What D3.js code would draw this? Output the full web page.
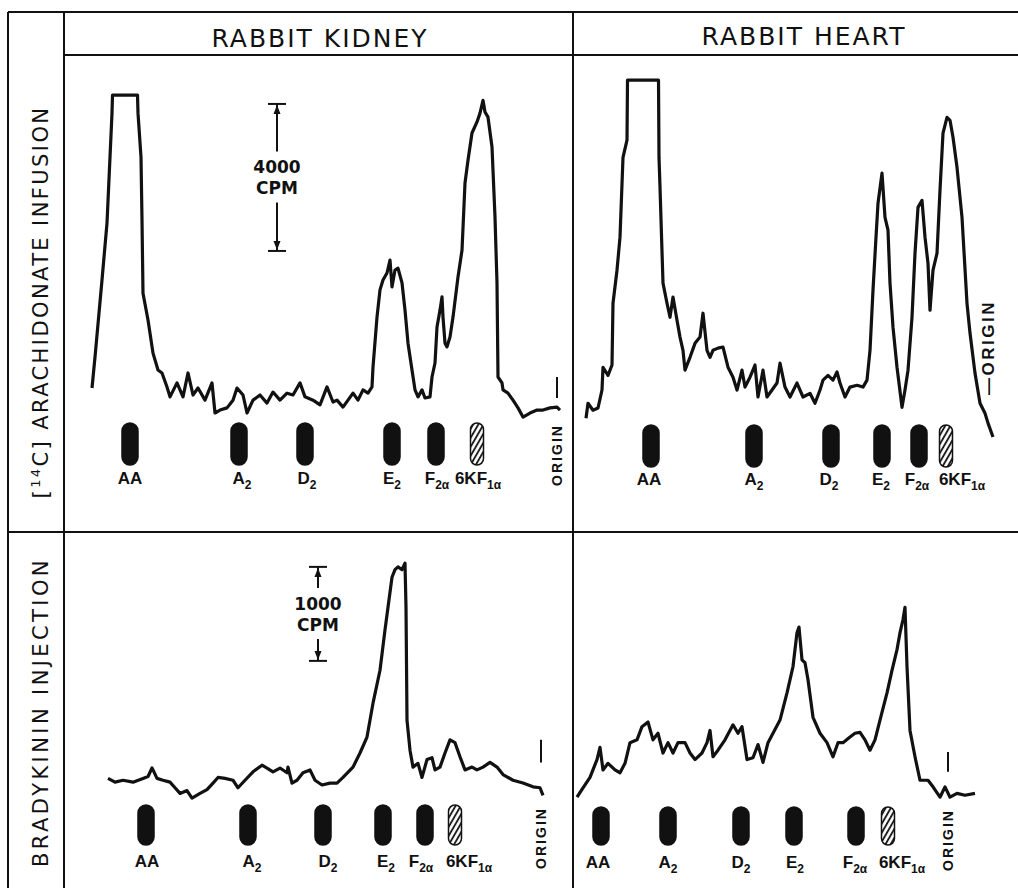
<!DOCTYPE html>
<html>
<head>
<meta charset="utf-8">
<script src="https://cdn.jsdelivr.net/npm/d3@7"></script>
<style>
  body { margin: 0; background: #fff; }
  svg { display: block; font-family: "DejaVu Sans", sans-serif; }
</style>
</head>
<body>
<svg id="fig" width="1018" height="888"></svg>
<script>
// Radio-TLC scans, x = scan position (arbitrary units along plate), y = CPM
const kidneyInfusion = [[27,870],[30,1710],[37,3810],[42,5360],[47,8350],[47.5,8840],[72.5,8840],[73,8350],[76,7150],[77,5440],[78,3450],[83,2720],[88,1820],[93,1360],[97,1280],[102,900],[105,630],[112,1010],[118,630],[123,1280],[128,680],[133,870],[140,540],[147,1010],[150,190],[155,270],[162,330],[168,540],[172,870],[178,680],[182,190],[188,540],[195,680],[202,460],[208,760],[215,540],[222,730],[228,680],[235,1010],[240,630],[248,540],[255,410],[262,900],[268,490],[272,540],[278,350],[288,730],[293,540],[298,820],[303,730],[307,900],[308,1440],[312,2800],[315,3540],[318,3810],[322,4000],[325,4350],[327,3620],[330,4080],[333,4130],[337,3730],[340,2990],[343,2090],[347,1360],[350,820],[353,630],[357,820],[360,600],[365,630],[367,1170],[370,1550],[372,2530],[375,2990],[377,3350],[378,2800],[380,2090],[382,1990],[385,2260],[388,2800],[393,3890],[397,4620],[400,6450],[403,7070],[407,7810],[412,8110],[415,8350],[418,8700],[420,8380],[423,8240],[427,7430],[430,5520],[432,3730],[433,1170],[437,1010],[438,820],[443,730],[448,540],[453,330],[458,80],[465,190],[472,270],[478,270],[485,330],[492,350],[495,270]];

const heartInfusion = [[13,590],[15,1000],[20,810],[25,870],[29,1360],[30,1980],[35,1760],[39,2040],[40,3720],[44,4620],[47,5520],[50,7690],[54,8160],[54.5,9790],[85.5,9790],[86,7690],[87,6880],[90,4270],[94,3720],[97,3340],[100,3890],[104,3260],[107,2800],[110,2440],[112,1900],[117,2250],[122,2630],[127,2800],[130,3450],[134,2440],[137,2250],[140,2440],[145,2500],[150,2530],[155,1980],[160,1710],[164,1360],[169,1900],[172,1440],[177,1710],[182,2040],[185,1170],[190,1900],[194,1170],[199,1360],[204,1550],[207,2090],[212,1440],[217,1170],[224,1550],[230,1170],[237,1270],[242,1000],[247,1360],[250,1630],[255,1760],[260,1630],[264,1850],[267,1550],[272,1170],[277,1440],[284,1490],[290,1440],[294,1630],[297,2440],[300,4080],[303,5520],[305,6440],[309,7260],[312,6060],[315,5710],[317,4270],[320,3070],[324,1980],[329,890],[332,1360],[335,1900],[339,3340],[342,5080],[345,6330],[349,6520],[352,5520],[355,4810],[357,3530],[360,4620],[364,5080],[367,6800],[370,8350],[374,8780],[377,8700],[380,8240],[384,7420],[389,6060],[394,3720],[397,2910],[402,1820],[407,1000],[412,730],[415,460],[420,80]];

const kidneyBradykinin = [[43,230],[50,190],[58,210],[68,190],[78,230],[83,250],[87,340],[88,320],[92,230],[98,210],[105,190],[110,130],[115,70],[122,100],[127,20],[135,70],[142,110],[148,180],[153,240],[160,230],[168,210],[173,130],[180,210],[188,300],[197,370],[202,340],[208,300],[215,340],[222,290],[223,350],[227,180],[232,210],[238,290],[245,320],[250,210],[257,160],[265,180],[272,180],[278,240],[288,350],[295,500],[302,670],[308,1030],[315,1380],[320,1810],[323,2050],[327,2370],[330,2450],[333,2480],[337,2450],[340,2520],[341,2050],[342,850],[345,530],[348,350],[353,390],[357,240],[362,430],[367,450],[370,320],[375,350],[380,500],[385,640],[390,610],[395,460],[400,320],[407,350],[412,320],[418,350],[425,400],[432,350],[438,270],[448,210],[458,180],[468,140],[475,130],[478,50]];

const heartBradykinin = [[4,30],[10,130],[17,240],[24,430],[27,560],[30,320],[35,390],[42,320],[47,290],[52,390],[57,610],[64,640],[69,780],[75,830],[80,640],[85,710],[90,500],[95,610],[100,500],[105,610],[112,610],[117,500],[122,430],[129,500],[134,610],[137,740],[140,460],[145,530],[152,640],[160,800],[165,710],[169,780],[174,430],[180,450],[185,590],[190,400],[195,610],[200,710],[207,850],[214,1140],[220,1420],[224,1780],[226,1840],[229,1490],[232,1460],[235,1280],[240,880],[247,710],[254,610],[260,460],[265,610],[270,610],[277,670],[282,710],[287,720],[292,640],[297,530],[302,640],[307,850],[314,1140],[319,1380],[324,1600],[327,1780],[330,1920],[332,2050],[334,1420],[337,740],[342,460],[347,210],[355,210],[360,140],[367,30],[372,140],[377,30],[384,70],[392,50],[402,70]];

// Standards run alongside each plate
const standardNames = ["AA", "A", "D", "E", "F", "6KF"];
const standardSubs = ["", "2", "2", "2", "2\u03b1", "1\u03b1"];
const kidneyInfusionSpots = [65, 174, 240, 327, 371, 412];
const heartInfusionSpots = [78, 181, 258, 309, 346, 373];
const kidneyBradykininSpots = [81, 183, 258, 318, 360, 390];
const heartBradykininSpots = [28, 95, 168, 221, 283, 315];

// label positions (not always centred on the spot)
const kidneyInfusionLabels = [65, 177, 242, 327, 372, 413];
const heartInfusionLabels = [76, 181, 256, 308, 344, 389];
const kidneyBradykininLabels = [82, 187, 263, 321, 356, 404];
const heartBradykininLabels = [25, 95, 168, 222, 282, 329];

// Origin marks: [position, cpm low, cpm high]
const kidneyInfusionOrigin = [492, 600, 1170];
const kidneyBradykininOrigin = [476, 400, 640];
const heartBradykininOrigin = [375, 300, 510];
const heartInfusionOrigin = 415;

// Calibration bars
const topScaleBar = [4600, 8600];
const bottomScaleBar = [1480, 2480];

const svg = d3.select("#fig");
const labelFont = "'Liberation Sans', Arial, sans-serif";

// hatch pattern for 6-keto-PGF1a
svg.append("defs").append("pattern")
  .attr("id", "hatch")
  .attr("patternUnits", "userSpaceOnUse")
  .attr("width", 4.5).attr("height", 4.5)
  .attr("patternTransform", "rotate(30)")
  .call(p => {
    p.append("rect").attr("width", 4.5).attr("height", 4.5).attr("fill", "#fff");
    p.append("line").attr("x1", 1).attr("y1", 0).attr("x2", 1).attr("y2", 4.5)
      .attr("stroke", "#111").attr("stroke-width", 1.8);
  });

// frame
const frame = [
  [8, 12, 1018, 12], [8, 12, 8, 888], [64, 12, 64, 888], [573, 12, 573, 888],
  [64, 55, 1018, 55], [8, 532, 1018, 532]
];
svg.selectAll(".frame").data(frame).enter().append("line")
  .attr("x1", d => d[0]).attr("y1", d => d[1]).attr("x2", d => d[2]).attr("y2", d => d[3])
  .attr("stroke", "#111").attr("stroke-width", 2);

// column headers
svg.append("text").attr("x", 320).attr("y", 47).attr("text-anchor", "middle")
  .style("font-size", "25px").style("letter-spacing", "2px").attr("fill", "#111")
  .text("RABBIT KIDNEY");
svg.append("text").attr("x", 804).attr("y", 45).attr("text-anchor", "middle")
  .style("font-size", "25px").style("letter-spacing", "2px").attr("fill", "#111")
  .text("RABBIT HEART");

// row headers
const rowLab1 = svg.append("text")
  .attr("transform", "translate(48,302) rotate(-90)")
  .attr("text-anchor", "middle")
  .style("font-size", "21px").style("letter-spacing", "2.4px").attr("fill", "#111");
rowLab1.append("tspan").text("[");
rowLab1.append("tspan").attr("dy", -8).style("font-size", "13px").text("14");
rowLab1.append("tspan").attr("dy", 8).text("C] ARACHIDONATE INFUSION");

svg.append("text")
  .attr("transform", "translate(48,712) rotate(-90)")
  .attr("text-anchor", "middle")
  .style("font-size", "21px").style("letter-spacing", "3.4px").attr("fill", "#111")
  .text("BRADYKININ INJECTION");

// panels
const panels = [
  { trace: kidneyInfusion, spots: kidneyInfusionSpots, labels: kidneyInfusionLabels, origin: kidneyInfusionOrigin,
    x: d3.scaleLinear().domain([0, 508]).range([65, 573]),
    y: d3.scaleLinear().domain([0, 4000]).range([420, 273]),
    spotTop: 423, spotH: 42, labelY: 484, originY: 455 },
  { trace: heartInfusion, spots: heartInfusionSpots, labels: heartInfusionLabels, origin: null,
    x: d3.scaleLinear().domain([0, 445]).range([573, 1018]),
    y: d3.scaleLinear().domain([0, 4000]).range([440, 293]),
    spotTop: 425, spotH: 42, labelY: 485, originY: null },
  { trace: kidneyBradykinin, spots: kidneyBradykininSpots, labels: kidneyBradykininLabels, origin: kidneyBradykininOrigin,
    x: d3.scaleLinear().domain([0, 508]).range([65, 573]),
    y: d3.scaleLinear().domain([0, 1000]).range([800, 706]),
    spotTop: 805, spotH: 40, labelY: 867, originY: 838 },
  { trace: heartBradykinin, spots: heartBradykininSpots, labels: heartBradykininLabels, origin: heartBradykininOrigin,
    x: d3.scaleLinear().domain([0, 445]).range([573, 1018]),
    y: d3.scaleLinear().domain([0, 1000]).range([800, 706]),
    spotTop: 807, spotH: 38, labelY: 868, originY: 840 }
];

panels.forEach(p => {
  const g = svg.append("g");

  const line = d3.line().x(d => p.x(d[0])).y(d => p.y(d[1]));
  g.append("path").datum(p.trace)
    .attr("d", line)
    .attr("fill", "none")
    .attr("stroke", "#111")
    .attr("stroke-width", 3.2)
    .attr("stroke-linejoin", "round");

  // standard spots
  g.selectAll(".spot").data(p.spots).enter().append("rect")
    .attr("x", (d, i) => p.x(d) - (i === 5 ? 6.5 : 8))
    .attr("y", p.spotTop)
    .attr("width", (d, i) => i === 5 ? 13 : 16)
    .attr("height", p.spotH)
    .attr("rx", (d, i) => i === 5 ? 6.5 : 8)
    .attr("fill", (d, i) => i === 5 ? "url(#hatch)" : "#111")
    .attr("stroke", "#111").attr("stroke-width", 1.5);

  const labs = g.selectAll(".lab").data(p.labels).enter().append("text")
    .attr("x", d => p.x(d))
    .attr("y", p.labelY)
    .attr("text-anchor", "middle")
    .style("font-family", labelFont)
    .style("font-size", "17px").style("font-weight", "bold")
    .attr("fill", "#111");
  labs.append("tspan").text((d, i) => standardNames[i]);
  labs.append("tspan").attr("dy", 5).style("font-size", "12px")
    .text((d, i) => standardSubs[i]);

  // origin
  if (p.origin) {
    g.append("line")
      .attr("x1", p.x(p.origin[0])).attr("x2", p.x(p.origin[0]))
      .attr("y1", p.y(p.origin[1])).attr("y2", p.y(p.origin[2]))
      .attr("stroke", "#111").attr("stroke-width", 2);
    g.append("text")
      .attr("transform", `translate(${p.x(p.origin[0]) + 5},${p.originY}) rotate(-90)`)
      .attr("text-anchor", "middle")
      .style("font-family", labelFont)
      .style("font-size", "14px").style("font-weight", "bold").style("letter-spacing", "2px")
      .attr("fill", "#111").text("ORIGIN");
  }
});

// heart infusion origin label
svg.append("text")
  .attr("transform", `translate(${panels[1].x(heartInfusionOrigin) + 6},395) rotate(-90)`)
  .style("font-family", labelFont)
  .style("font-size", "17px").style("font-weight", "bold").style("letter-spacing", "2.5px")
  .attr("fill", "#111").text("\u2014ORIGIN");

// calibration bars
function scaleBar(p, xPos, range, label) {
  const g = svg.append("g").attr("stroke", "#111").attr("fill", "#111");
  const xc = p.x(xPos);
  const yTop = p.y(range[1]), yBot = p.y(range[0]);
  const mid = (yTop + yBot) / 2;
  g.append("line").attr("x1", xc - 9).attr("x2", xc + 9).attr("y1", yTop).attr("y2", yTop).attr("stroke-width", 2);
  g.append("line").attr("x1", xc - 9).attr("x2", xc + 9).attr("y1", yBot).attr("y2", yBot).attr("stroke-width", 2);
  g.append("line").attr("x1", xc).attr("x2", xc).attr("y1", yTop).attr("y2", mid - 26).attr("stroke-width", 2);
  g.append("line").attr("x1", xc).attr("x2", xc).attr("y1", mid + 25).attr("y2", yBot).attr("stroke-width", 2);
  g.append("path").attr("d", `M${xc},${yTop + 1}l-3.5,9h7z`).attr("stroke", "none");
  g.append("path").attr("d", `M${xc},${yBot - 1}l-3.5,-9h7z`).attr("stroke", "none");
  g.append("text").attr("x", xc).attr("y", mid - 4).attr("text-anchor", "middle")
    .attr("stroke", "none").style("font-size", "17px").style("font-weight", "bold").text(label);
  g.append("text").attr("x", xc).attr("y", mid + 17).attr("text-anchor", "middle")
    .attr("stroke", "none").style("font-size", "17px").style("font-weight", "bold").text("CPM");
}
scaleBar(panels[0], 212, topScaleBar, "4000");
scaleBar(panels[2], 253, bottomScaleBar, "1000");
</script>
</body>
</html>
